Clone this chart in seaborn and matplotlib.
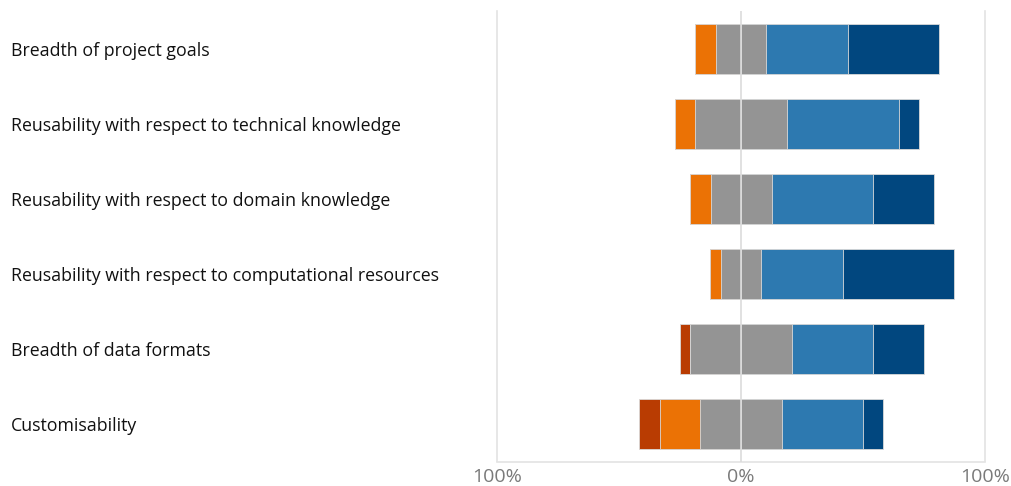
import numpy as np
import matplotlib
matplotlib.use("Agg")
import matplotlib.pyplot as plt
import seaborn as sns
import pandas as pd

# Likert-style responses, percent of respondents
categories = [
    "Breadth of project goals",
    "Reusability with respect to technical knowledge",
    "Reusability with respect to domain knowledge",
    "Reusability with respect to computational resources",
    "Breadth of data formats",
    "Customisability",
]
strongly_disagree = [0.0, 0.0, 0.0, 0.0, 4.2, 8.3]
disagree = [8.3, 8.3, 8.3, 4.2, 0.0, 16.7]
neutral = [20.8, 37.5, 25.0, 16.7, 41.7, 33.3]
agree = [33.3, 45.8, 41.7, 33.3, 33.3, 33.3]
strongly_agree = [37.5, 8.3, 25.0, 45.8, 20.8, 8.3]

colors = ["#B93C02", "#EB7205", "#949494", "#2D79B0", "#01477F"]

sd = np.array(strongly_disagree)
d = np.array(disagree)
n = np.array(neutral)
a = np.array(agree)
sa = np.array(strongly_agree)

# layered bars from 0: longest first, shorter on top
layers = [
    (n / 2 + a + sa, colors[4]),
    (n / 2 + a, colors[3]),
    (n / 2, colors[2]),
    (-(n / 2 + d + sd), colors[0]),
    (-(n / 2 + d), colors[1]),
    (-(n / 2), colors[2]),
]

sns.set_style("white")
plt.rcParams["font.family"] = ["Open Sans", "DejaVu Sans"]

fig = plt.figure(figsize=(10.11, 4.86), dpi=100)
ax = fig.add_axes([497 / 1011, 1 - 461.5 / 486, 488 / 1011, 450 / 486])

for vals, col in layers:
    df = pd.DataFrame({"category": categories, "value": vals})
    sns.barplot(data=df, x="value", y="category", orient="h", color=col,
                width=0.67, edgecolor="#d9d9d9", linewidth=0.6, ax=ax,
                saturation=1)

ax.axvline(0, color="#dcdcdc", lw=1.2, zorder=5)
ax.set_xlim(-100, 100)
ax.set_ylim(5.5, -0.5)
ax.set_xticks([-100, 0, 100])
ax.set_xticklabels(["100%", "0%", "100%"])
ax.tick_params(axis="x", length=0, pad=5, labelsize=14, labelcolor="#7a7a7a")
ax.tick_params(axis="y", length=0, pad=350, labelsize=12.8, labelcolor="#111111")
for lbl in ax.get_yticklabels():
    lbl.set_horizontalalignment("left")
    lbl.set_verticalalignment("center_baseline")
ax.set_xlabel("")
ax.set_ylabel("")

for side in ["left", "right", "bottom"]:
    ax.spines[side].set_color("#e3e3e3")
    ax.spines[side].set_linewidth(1.2)
ax.spines["top"].set_visible(False)

fig.savefig("out.png", dpi=100)
